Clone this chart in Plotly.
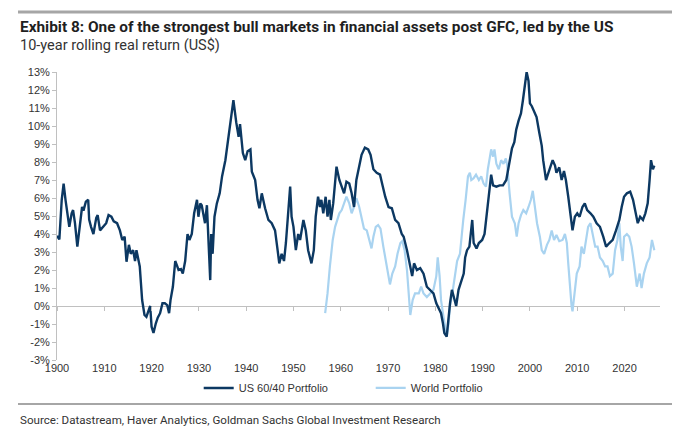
import plotly.graph_objects as go

# US 60/40 portfolio, 10-year rolling real return (%)
us_year = [
    1900.0, 1900.5, 1901.0, 1901.4, 1901.8, 1902.2, 1902.6, 1903.1, 1903.4, 1903.8,
    1904.3, 1904.8, 1905.3, 1905.6, 1906.1, 1906.6, 1906.8, 1907.2, 1907.7, 1908.3,
    1908.6, 1909.1, 1909.7, 1910.4, 1910.9, 1911.5, 1912.0, 1912.7, 1913.3, 1913.8,
    1914.3, 1914.7, 1915.2, 1915.6, 1916.1, 1916.5, 1916.8, 1917.2, 1917.5, 1918.0,
    1918.5, 1918.9, 1919.4, 1919.7, 1920.0, 1920.4, 1920.9, 1921.3, 1921.8, 1922.3,
    1922.8, 1923.3, 1923.7, 1924.0, 1924.5, 1925.0, 1925.3, 1925.7, 1926.2, 1926.6,
    1927.1, 1927.6, 1928.0, 1928.5, 1929.0, 1929.6, 1929.9, 1930.3, 1930.6, 1931.0,
    1931.3, 1931.7, 1932.0, 1932.4, 1932.6, 1932.9, 1933.3, 1933.8, 1934.4, 1934.9,
    1935.6, 1936.3, 1937.3, 1937.9, 1938.4, 1938.7, 1939.3, 1939.8, 1940.3, 1940.9,
    1941.2, 1941.9, 1942.4, 1942.8, 1943.3, 1944.0, 1944.7, 1945.4, 1946.1, 1946.6,
    1947.0, 1947.5, 1948.0, 1948.4, 1948.9, 1949.3, 1949.6, 1950.0, 1950.5, 1951.0,
    1951.4, 1952.1, 1952.6, 1953.1, 1953.8, 1954.3, 1954.7, 1955.2, 1955.6, 1955.9,
    1956.3, 1956.8, 1957.2, 1957.6, 1957.9, 1958.4, 1959.1, 1959.7, 1960.2, 1960.7,
    1961.2, 1961.8, 1962.3, 1962.8, 1963.3, 1963.9, 1964.4, 1965.1, 1965.8, 1966.3,
    1966.9, 1967.6, 1968.3, 1968.9, 1969.4, 1970.1, 1970.8, 1971.5, 1972.2, 1972.9,
    1973.3, 1974.0, 1974.7, 1975.1, 1975.5, 1976.1, 1976.8, 1977.5, 1978.2, 1978.9,
    1979.6, 1980.2, 1980.7, 1981.2, 1981.6, 1981.9, 1982.4, 1982.8, 1983.1, 1983.5,
    1984.0, 1984.4, 1984.9, 1985.3, 1986.0, 1986.3, 1986.7, 1987.2, 1987.8, 1988.1,
    1988.7, 1989.2, 1989.9, 1990.4, 1990.8, 1991.2, 1991.5, 1991.8, 1992.2, 1992.9,
    1993.6, 1994.3, 1995.0, 1995.3, 1995.7, 1996.2, 1996.7, 1997.1, 1997.6, 1998.1,
    1998.5, 1999.0, 1999.3, 1999.7, 2000.0, 2000.4, 2000.7, 2001.4, 2002.0, 2002.5,
    2002.8, 2003.4, 2003.9, 2004.2, 2004.8, 2005.3, 2005.6, 2006.2, 2006.7, 2007.2,
    2007.6, 2008.1, 2008.6, 2009.0, 2009.5, 2010.0, 2010.5, 2011.1, 2011.6, 2012.1,
    2012.8, 2013.4, 2014.1, 2014.8, 2015.5, 2016.1, 2016.8, 2017.5, 2018.2, 2018.9,
    2019.4, 2019.9, 2020.5, 2021.2, 2021.8, 2022.3, 2022.8, 2023.3, 2023.9, 2024.4,
    2024.9, 2025.3, 2025.6, 2026.0, 2026.3,
]
us_ret = [
    3.9, 3.7, 5.9, 6.8, 5.9, 5.0, 4.4, 5.15, 5.33, 4.6,
    3.3, 4.4, 5.5, 5.3, 5.8, 5.9, 4.8, 4.4, 4.0, 4.9,
    5.05, 4.2, 4.4, 4.6, 5.05, 4.96, 4.7, 4.6, 4.2, 3.67,
    3.85, 2.46, 3.4, 2.9, 3.1, 2.5, 3.1, 2.5, 2.2, 0.33,
    -0.5, -0.6, -0.2, 0.0, -1.15, -1.5, -0.96, -0.65, -0.4, 0.15,
    0.15, 0.05, -0.4, 0.33, 1.07, 2.5, 2.3, 2.0, 2.05, 1.8,
    2.5, 4.0, 3.67, 4.0, 5.15, 5.9, 4.96, 5.7, 5.6, 4.96,
    4.6, 5.6, 3.5, 1.44, 4.0, 2.9, 4.96, 5.7, 6.26, 7.2,
    8.1, 9.4, 11.44, 10.2, 9.4, 10.1, 8.5, 8.1, 8.6, 8.7,
    7.46, 7.0, 5.9, 5.43, 6.26, 5.43, 4.78, 4.6, 4.2, 3.2,
    2.37, 2.9, 2.5, 3.5, 5.15, 6.63, 4.96, 4.4, 3.1, 4.0,
    3.67, 4.78, 4.2, 3.1, 2.37, 3.1, 4.96, 6.07, 5.5, 5.9,
    5.15, 6.07, 4.96, 5.9, 4.78, 5.7, 7.74, 7.0, 6.63, 6.26,
    6.9, 6.8, 6.26, 5.5, 7.0, 7.74, 8.4, 8.8, 8.7, 8.4,
    7.6, 7.4, 7.3, 6.63, 6.07, 5.5, 5.43, 4.78, 4.6, 4.0,
    3.85, 3.1, 2.2, 1.66, 2.37, 2.0, 2.1, 1.8, 1.07, 0.9,
    0.7, 0.15, -0.1, -0.4, -0.96, -1.5, -1.7, -0.4, 0.15, 0.9,
    0.33, 0.0, 0.9, 1.26, 1.8, 2.7, 3.1, 3.3, 4.78, 3.5,
    3.2, 3.5, 3.67, 4.0, 4.96, 5.9, 6.8, 7.3, 6.7, 6.63,
    6.7, 6.7, 7.0, 7.4, 8.1, 8.76, 9.1, 9.8, 10.3, 10.7,
    11.4, 12.4, 13.0, 12.5, 11.26, 11.1, 10.9, 10.5, 9.6, 8.9,
    8.1, 7.0, 7.4, 7.6, 8.1, 7.8, 7.4, 7.7, 7.0, 7.5,
    7.0, 6.07, 5.15, 4.2, 4.96, 5.15, 4.96, 5.5, 5.7, 5.33,
    5.15, 4.96, 4.6, 4.4, 3.85, 3.3, 3.5, 3.67, 4.2, 4.78,
    5.5, 6.07, 6.26, 6.35, 5.9, 5.15, 4.6, 4.96, 4.78, 5.15,
    5.7, 7.0, 8.1, 7.6, 7.8,
]

# World portfolio, 10-year rolling real return (%)
world_year = [
    1956.7, 1957.2, 1957.7, 1958.3, 1958.8, 1959.2, 1959.7, 1960.2, 1960.7, 1961.2,
    1961.8, 1962.3, 1962.8, 1963.3, 1963.9, 1964.4, 1964.9, 1965.5, 1966.0, 1966.5,
    1966.9, 1967.4, 1967.9, 1968.4, 1969.0, 1969.5, 1970.1, 1970.4, 1970.9, 1971.5,
    1972.0, 1972.6, 1973.0, 1973.5, 1974.0, 1974.3, 1974.7, 1975.2, 1975.7, 1976.5,
    1977.0, 1977.5, 1978.2, 1978.9, 1979.6, 1980.2, 1980.5, 1980.9, 1981.2, 1981.6,
    1982.1, 1982.4, 1982.8, 1983.1, 1983.7, 1984.2, 1984.6, 1985.2, 1985.5, 1985.9,
    1986.4, 1986.9, 1987.3, 1987.6, 1988.1, 1988.6, 1989.2, 1989.7, 1990.2, 1990.7,
    1991.1, 1991.4, 1991.8, 1992.2, 1992.5, 1992.9, 1993.4, 1993.9, 1994.4, 1994.9,
    1995.2, 1995.7, 1996.2, 1996.8, 1997.2, 1997.6, 1998.1, 1998.6, 1999.2, 1999.7,
    2000.2, 2000.6, 2001.0, 2001.5, 2002.1, 2002.5, 2003.0, 2003.6, 2004.1, 2004.6,
    2005.1, 2005.6, 2006.2, 2006.9, 2007.4, 2007.8, 2008.1, 2008.5, 2008.8, 2009.0,
    2009.4, 2009.9, 2010.5, 2010.9, 2011.4, 2011.9, 2012.3, 2012.8, 2013.3, 2013.8,
    2014.3, 2014.8, 2015.4, 2015.9, 2016.4, 2016.9, 2017.5, 2018.0, 2018.5, 2018.9,
    2019.2, 2019.6, 2019.9, 2020.5, 2021.0, 2021.5, 2022.0, 2022.6, 2023.2, 2023.6,
    2024.1, 2024.7, 2025.3, 2025.8, 2026.3,
]
world_ret = [
    -0.4, 0.7, 2.2, 3.67, 4.4, 4.78, 5.15, 5.33, 5.7, 6.07,
    5.7, 5.15, 5.5, 6.0, 5.5, 4.96, 4.3, 4.2, 3.67, 3.2,
    3.85, 4.4, 4.5, 4.3, 3.3, 2.5, 1.6, 1.2, 1.8, 2.2,
    2.9, 3.5, 3.6, 3.1, 2.0, 0.7, -0.5, 0.33, 0.7, 0.7,
    1.07, 0.7, 0.5, 0.7, 0.9, 1.66, 2.7, 1.66, 0.33, -0.4,
    -1.15, -1.7, -0.96, 0.0, 0.9, 1.66, 2.5, 2.9, 3.85, 4.78,
    5.9, 7.2, 7.4, 7.0, 7.1, 7.3, 7.0, 7.2, 6.8, 6.63,
    7.6, 8.1, 8.7, 8.3, 8.7, 7.9, 7.6, 8.1, 7.9, 8.2,
    7.8, 6.26, 4.96, 4.6, 3.85, 4.6, 5.05, 5.33, 5.15, 5.5,
    5.9, 6.4, 5.5, 4.6, 3.85, 3.1, 2.9, 3.4, 3.67, 4.2,
    3.67, 3.94, 3.6, 3.67, 4.0, 3.5, 2.37, 0.9, 0.0, -0.3,
    0.7, 1.8, 2.2, 3.3, 2.9, 3.67, 4.4, 4.6, 3.85, 3.3,
    3.3, 2.7, 2.5, 2.2, 2.2, 1.66, 1.8, 3.1, 3.67, 4.6,
    3.3, 2.5, 3.85, 4.0, 3.85, 3.3, 2.37, 1.07, 1.8, 1.0,
    1.8, 2.37, 2.7, 3.67, 3.1,
]

decades = list(range(1900, 2030, 10))
pct_vals = list(range(-3, 14))
pct_text = [f"{v}%" for v in pct_vals]

x_range = [1900, 2027.5]
axis_grey = "#c0c0c0"
tick_font = dict(family="Liberation Sans, Arial, sans-serif", size=11, color="#333333")

fig = go.Figure()

fig.add_trace(go.Scatter(
    x=world_year, y=world_ret, name="World Portfolio", mode="lines",
    line=dict(color="#a9d3f0", width=2.2), legendrank=2,
))
fig.add_trace(go.Scatter(
    x=us_year, y=us_ret, name="US 60/40 Portfolio", mode="lines",
    line=dict(color="#0c3862", width=2.4), legendrank=1,
))
# carrier for the decade ticks that sit on the zero line
fig.add_trace(go.Scatter(
    x=[1900], y=[0], xaxis="x2", mode="none", showlegend=False, hoverinfo="skip",
))

# page body adds an 8px offset, so the figure is 8px smaller than the window
fig.update_layout(
    width=679, height=429,
    margin=dict(l=49, r=27, t=64, b=77),
    paper_bgcolor="white", plot_bgcolor="white",
    showlegend=True,
    legend=dict(
        orientation="h", x=0.235, xanchor="left", y=-0.097, yanchor="middle",
        font=tick_font, bgcolor="rgba(0,0,0,0)", entrywidth=127,
    ),
    xaxis=dict(
        range=x_range, tickvals=decades, ticks="", showline=False,
        showgrid=False, zeroline=False, tickfont=tick_font,
    ),
    xaxis2=dict(
        range=x_range, overlaying="x", anchor="free", position=3 / 16,
        tickvals=decades, ticks="outside", ticklen=4, tickcolor=axis_grey,
        showticklabels=False, showline=False, showgrid=False, zeroline=False,
    ),
    yaxis=dict(
        range=[-3, 13], tickvals=pct_vals, ticktext=pct_text,
        ticks="outside", ticklen=4, tickcolor=axis_grey,
        showline=True, linecolor=axis_grey, linewidth=1,
        showgrid=False, zeroline=True, zerolinecolor=axis_grey, zerolinewidth=1,
        tickfont=tick_font,
    ),
)

def px_x(px):
    return (px - 57) / 603

def px_y(py):
    return (360 - py) / 288

fig.add_annotation(
    text="<b>Exhibit 8: One of the strongest bull markets in financial assets post GFC, led by the US</b>",
    xref="paper", yref="paper", x=px_x(18), y=px_y(27), xanchor="left", yanchor="middle",
    showarrow=False, font=dict(family="Roboto, sans-serif", size=15.4, color="#1f1f1f"),
)
fig.add_annotation(
    text="10-year rolling real return (US$)",
    xref="paper", yref="paper", x=px_x(18), y=px_y(45), xanchor="left", yanchor="middle",
    showarrow=False, font=dict(family="Roboto, sans-serif", size=14.5, color="#333333"),
)
fig.add_annotation(
    text="Source: Datastream, Haver Analytics, Goldman Sachs Global Investment Research",
    xref="paper", yref="paper", x=px_x(18), y=px_y(420), xanchor="left", yanchor="middle",
    showarrow=False, font=dict(family="Roboto, sans-serif", size=11.6, color="#333333"),
)
for py, w in [(12, 3), (404, 2)]:
    fig.add_shape(
        type="line", xref="paper", yref="paper",
        x0=px_x(18), x1=px_x(672), y0=px_y(py), y1=px_y(py),
        line=dict(color="#a6a6a6", width=w),
    )

fig.write_html("out.html")
